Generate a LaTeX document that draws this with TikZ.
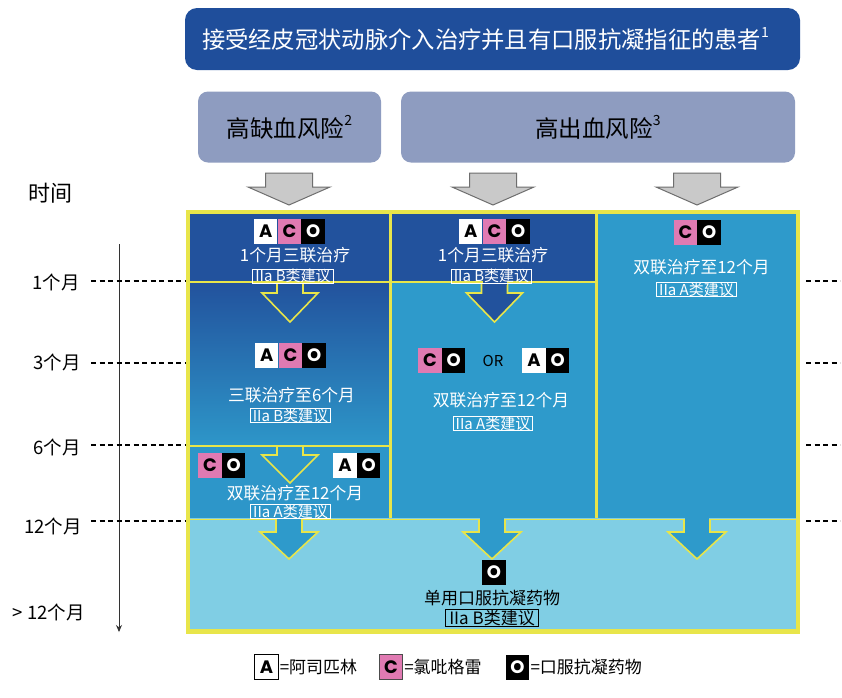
\documentclass[tikz,border=0pt]{standalone}
\usepackage{fontspec}
\setmainfont{Noto Sans CJK SC}
\newfontfamily\iconfont{Poppins}
\usetikzlibrary{arrows.meta,positioning}
\newcommand{\myfs}[1]{\fontsize{#1pt}{#1pt}\selectfont}
\newcommand{\mysup}[1]{\raisebox{0.5em}{\myfs{14}#1}}
\definecolor{bannerblue}{HTML}{1F4E9B}
\definecolor{riskgray}{HTML}{8E9CC0}
\definecolor{darkcell}{HTML}{22529D}
\definecolor{midcell}{HTML}{2E9ACB}
\definecolor{lightcell}{HTML}{80CEE4}
\definecolor{frameyellow}{HTML}{E8E54A}
\definecolor{pinkc}{HTML}{E07AB2}
\definecolor{arrowgray}{HTML}{C9C9C9}
\definecolor{arrowedge}{HTML}{6E6E6E}
\tikzset{
  banner/.style={fill=bannerblue, rounded corners=12pt, minimum width=615pt, minimum height=62pt, inner sep=0pt, text=white, font=\myfs{23.3}},
  riskbox/.style={fill=riskgray, rounded corners=10pt, minimum height=71pt, inner sep=0pt, text=black, font=\myfs{23.5}},
  grayarrow/.style={fill=arrowgray, draw=arrowedge, line width=1pt, line join=miter},
  holarrow/.style={draw=frameyellow, line width=1.6pt, line join=miter},
  fillarrow/.style={draw=frameyellow, line width=1.6pt, line join=miter},
  celltxt/.style={text=white, font=\myfs{16.8}, inner sep=0pt},
  gradebox/.style={draw=white, line width=0.8pt, text=white, font=\myfs{15}, inner xsep=2.5pt, inner ysep=0.5pt, text height=12pt, text depth=1pt},
  gradeboxdark/.style={draw=black, line width=0.9pt, text=black, font=\myfs{17}, inner xsep=4pt, inner ysep=1pt, text height=14pt, text depth=1.5pt},
  icon/.style={minimum width=23.3pt, minimum height=25pt, inner sep=0pt, font=\iconfont\bfseries\myfs{18}},
  iconA/.style={icon, fill=white, text=black},
  iconC/.style={icon, fill=pinkc, text=black},
  iconO/.style={icon, fill=black, text=white},
  timelbl/.style={anchor=east, inner sep=0pt, font=\myfs{18.5}, text=black},
  tickline/.style={draw=black, line width=1.6pt, dash pattern=on 5pt off 3.5pt},
  legtxt/.style={inner sep=0pt, font=\myfs{17}, text=black},
}
\begin{document}
\begin{tikzpicture}[x=1pt,y=-1pt]
\useasboundingbox (0,0) rectangle (842,697);
\fill[white] (0,0) rectangle (842,697);

% header boxes
\node[banner] (banner) at (492.5,39) {接受经皮冠状动脉介入治疗并且有口服抗凝指征的患者\mysup{1}\hspace*{14pt}};
\node[riskbox, minimum width=183pt] (ischemic) at (289.5,127) {高缺血风险\mysup{2}};
\node[riskbox, minimum width=394pt] (bleeding) at (598,127) {高出血风险\mysup{3}};

% gray arrows
\foreach \cx in {289,493,697}{
  \draw[grayarrow] ({\cx-23.5},173) -- ({\cx+23.5},173) -- ({\cx+23.5},187) -- ({\cx+41},187) -- (\cx,205) -- ({\cx-41},187) -- ({\cx-23.5},187) -- cycle;
}

% cells
\fill[darkcell] (186,210) rectangle (596,282);
\shade[top color=darkcell, bottom color=midcell!95!darkcell] (186,282) rectangle (390,446);
\fill[midcell!95!darkcell] (186,446) rectangle (390,518);
\fill[midcell] (390,282) rectangle (596,518);
\fill[midcell] (596,210) rectangle (799,518);
\fill[lightcell] (186,518) rectangle (799,633);

% yellow grid
\draw[frameyellow, line width=1pt] (188.5,519.5) rectangle (796.5,629.5);
\draw[frameyellow, line width=2.2pt] (186,282) -- (596,282);
\draw[frameyellow, line width=2.2pt] (186,446) -- (390,446);
\draw[frameyellow, line width=3.5pt] (390.5,210) -- (390.5,518);
\draw[frameyellow, line width=3.5pt] (596.5,210) -- (596.5,518);
\draw[frameyellow, line width=4pt] (187.5,211.5) rectangle (797.5,631.5);

% arrows inside
\draw[holarrow] (277,283) -- (277,293) -- (262,293) -- (290,322) -- (318,293) -- (303,293) -- (303,283);
\filldraw[fillarrow, fill=darkcell] (481.5,283) -- (481.5,293) -- (466.5,293) -- (494.5,322) -- (522.5,293) -- (507.5,293) -- (507.5,283);
\fill[darkcell] (482.5,281) rectangle (506.5,285);
\draw[holarrow] (277,447) -- (277,455) -- (262,455) -- (290,483) -- (318,455) -- (303,455) -- (303,447);
\foreach \cx in {289,492,697}{
  \filldraw[fillarrow, fill=midcell] ({\cx-13},520) -- ({\cx-13},532) -- ({\cx-29},532) -- (\cx,559) -- ({\cx+29},532) -- ({\cx+13},532) -- ({\cx+13},520);
  \fill[midcell] ({\cx-12},517) rectangle ({\cx+12},522);
}

% column 1
\node[iconA] (c1a) at (265.7,231) {A};
\node[iconC, right=0pt of c1a] (c1c) {C};
\node[iconO, right=0pt of c1c] (c1o) {O};
\node[celltxt] (c1t) at (295,255) {1个月三联治疗};
\node[gradebox] (c1g) at (293,276) {IIa B类建议};

\node[iconA] (m1a) at (266.7,355) {A};
\node[iconC, right=0pt of m1a] (m1c) {C};
\node[iconO, right=0pt of m1c] (m1o) {O};
\node[celltxt] (m1t) at (291.5,395) {三联治疗至6个月};
\node[gradebox] (m1g) at (290.5,415.5) {IIa B类建议};

\node[iconC] (b1c) at (209.9,465.5) {C};
\node[iconO, right=0pt of b1c] (b1o) {O};
\node[iconA] (b1a2) at (344.9,465.5) {A};
\node[iconO, right=0pt of b1a2] (b1o2) {O};
\node[celltxt] (b1t) at (295,493) {双联治疗至12个月};
\node[gradebox] (b1g) at (290.5,511.5) {IIa A类建议};

% column 2
\node[iconA] (c2a) at (470.7,231) {A};
\node[iconC, right=0pt of c2a] (c2c) {C};
\node[iconO, right=0pt of c2c] (c2o) {O};
\node[celltxt] (c2t) at (493,255) {1个月三联治疗};
\node[gradebox] (c2g) at (491.5,276) {IIa B类建议};

\node[iconC] (m2c) at (429.9,360) {C};
\node[iconO, right=0pt of m2c] (m2o) {O};
\node[inner sep=0pt, font=\myfs{15}, text=black] (m2or) at (493,361) {OR};
\node[iconA] (m2a2) at (533.9,360) {A};
\node[iconO, right=0pt of m2a2] (m2o2) {O};
\node[celltxt] (m2t) at (501,400) {双联治疗至12个月};
\node[gradebox] (m2g) at (493,423.5) {IIa A类建议};

% column 3
\node[iconC] (c3c) at (685.4,232) {C};
\node[iconO, right=0pt of c3c] (c3o) {O};
\node[celltxt] (c3t) at (701.5,267) {双联治疗至12个月};
\node[gradebox] (c3g) at (696.5,289.5) {IIa A类建议};

% bottom region
\node[iconO] (botO) at (494,572.5) {O};
\node[inner sep=0pt, font=\myfs{17}, text=black] (bott) at (492,598) {单用口服抗凝药物};
\node[gradeboxdark] (botg) at (492,618) {IIa B类建议};

% time axis
\node[inner sep=0pt, font=\myfs{22}, text=black] (timehead) at (50,193) {时间};
\coordinate (axtop) at (119,244);
\coordinate (axbot) at (119,632);
\draw[-{Stealth[length=7pt,width=6pt]}, line width=0.9pt, black!80] (axtop) -- (axbot);

\node[timelbl] (t1) at (80,282) {1个月};
\node[timelbl] (t3) at (81,362) {3个月};
\node[timelbl] (t6) at (81,447) {6个月};
\node[timelbl] (t12) at (82,526) {12个月};
\node[timelbl] (t13) at (85,612) {> 12个月};

\foreach \yy/\nm in {281/a,363/b,445/c,521/d}{
  \coordinate (dl\nm) at (91,\yy);
  \coordinate (dr\nm) at (185,\yy);
  \draw[tickline] (dl\nm) -- (dr\nm);
  \coordinate (el\nm) at (806,\yy);
  \coordinate (er\nm) at (840,\yy);
  \draw[tickline] (el\nm) -- (er\nm);
}

% legend
\node[iconA, draw=black, line width=0.8pt] (legA) at (266.5,667) {A};
\node[legtxt, right=1pt of legA] (legAt) {=阿司匹林};
\node[iconC, draw=black!70, line width=0.8pt] (legC) at (391,667) {C};
\node[legtxt, right=1pt of legC] (legCt) {=氯吡格雷};
\node[iconO] (legO) at (517.5,667) {O};
\node[legtxt, right=1pt of legO] (legOt) {=口服抗凝药物};
\end{tikzpicture}
\end{document}
